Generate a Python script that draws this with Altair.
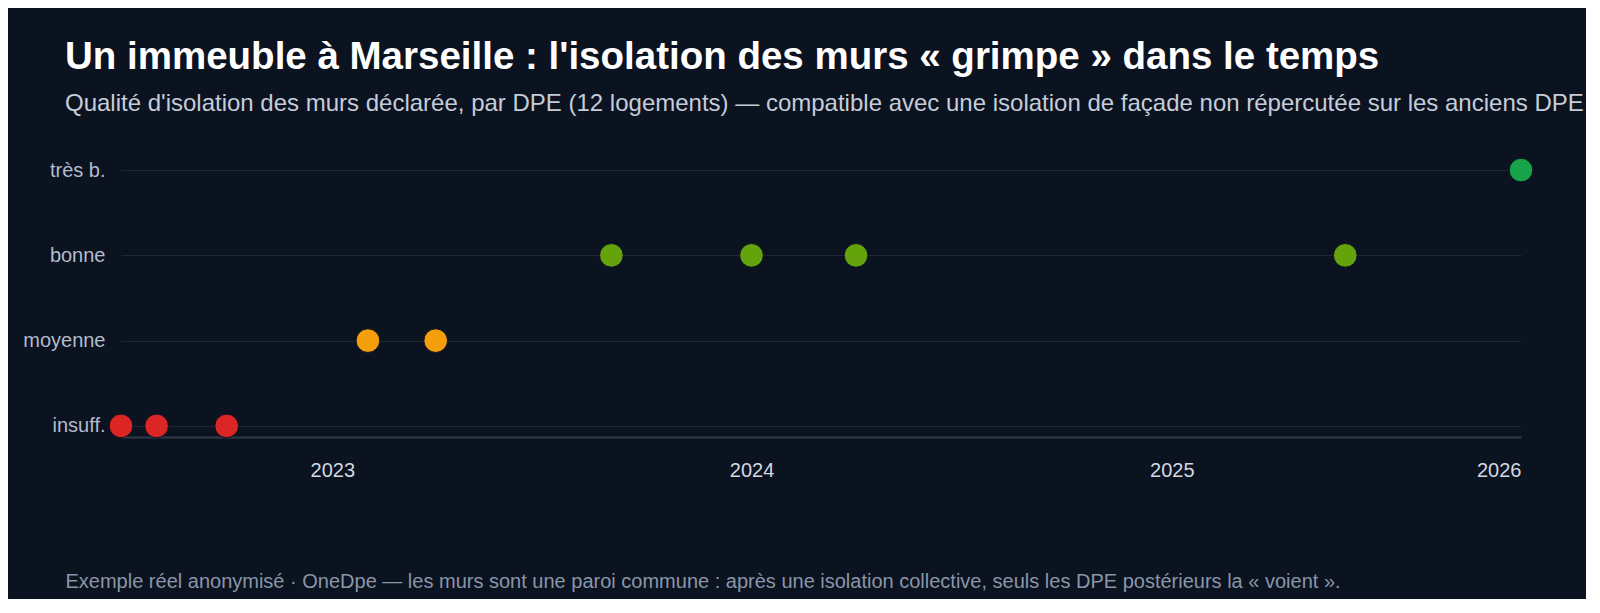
import altair as alt
import pandas as pd

# DPE dates and declared wall insulation quality (one point per DPE)
dates = ['2022-07-01', '2022-08-01', '2022-10-01',
         '2023-02-01', '2023-04-01',
         '2023-09-01', '2024-01-01', '2024-04-01', '2025-06-01',
         '2025-11-01']
qualite = ['insuff.', 'insuff.', 'insuff.',
           'moyenne', 'moyenne',
           'bonne', 'bonne', 'bonne', 'bonne',
           'très b.']

levels = ['très b.', 'bonne', 'moyenne', 'insuff.']
level_colors = ['#16a34a', '#65a30d', '#f59e0b', '#dc2626']

tick_dates = ['2023-01-01', '2024-01-01', '2025-01-01', '2025-11-01']

df = pd.DataFrame({'date': [d + 'T00:00:00' for d in dates], 'qualite': qualite})

bg = '#0b1220'

points = alt.Chart(df).mark_circle(size=560, opacity=1, stroke=bg, strokeWidth=1).encode(
    x=alt.X('date:T',
            scale=alt.Scale(nice=False, padding=0),
            axis=alt.Axis(
                values=[alt.DateTime(year=int(t[:4]), month=int(t[5:7]), date=1) for t in tick_dates],
                labelExpr="round(year(datum.value) + month(datum.value) / 12)",
                grid=False, ticks=False, labelPadding=23,
                labelColor='#d3d9e2', labelFontSize=20,
                domainColor='#2f3a4b', domainWidth=2,
                title='Exemple réel anonymisé · OneDpe — les murs sont une paroi commune : après une isolation collective, seuls les DPE postérieurs la « voient ».',
                titleAnchor='start', titleAlign='left', titleBaseline='alphabetic',
                titleX=-56, titleY=150,
                titleColor='#8a96a8', titleFontSize=20, titleFontWeight='normal')),
    y=alt.Y('qualite:N',
            sort=levels,
            scale=alt.Scale(domain=levels, padding=0.13),
            axis=alt.Axis(title=None, grid=True, gridColor='#1d2738', gridWidth=1,
                          domain=False, ticks=False, labelPadding=16,
                          labelColor='#b3bccb', labelFontSize=20)),
    color=alt.Color('qualite:N', scale=alt.Scale(domain=levels, range=level_colors), legend=None),
    tooltip=['date:T', 'qualite:N']
)

chart = points.properties(
    width=1400,
    height=278,
    background=bg,
    padding={'left': 14, 'right': 2, 'top': 29, 'bottom': 8},
    title=alt.TitleParams(
        text="Un immeuble à Marseille : l'isolation des murs « grimpe » dans le temps",
        subtitle="Qualité d'isolation des murs déclarée, par DPE (12 logements) — compatible avec une isolation de façade non répercutée sur les anciens DPE",
        anchor='start', frame='group', dx=-56, offset=39,
        color='#ffffff', fontSize=38.5, fontWeight='bold',
        subtitleColor='#c5cdd9', subtitleFontSize=24, subtitlePadding=15)
).configure(font='Liberation Sans').configure_view(stroke=None)

chart.save("out.html", embed_options={"renderer": "svg", "actions": False})
